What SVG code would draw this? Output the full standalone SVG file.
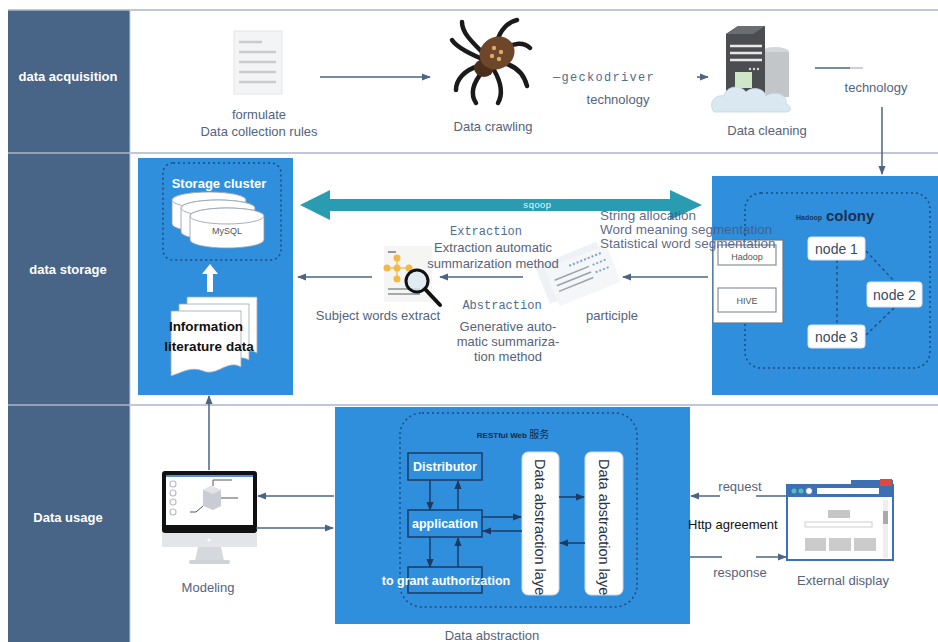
<svg xmlns="http://www.w3.org/2000/svg" width="938" height="642" viewBox="0 0 938 642">
  <style>
    .lbl { font-family: "Liberation Sans", Arial, sans-serif; font-size: 13px; fill: #55637c; }
    .lane { font-family: "Liberation Sans", Arial, sans-serif; font-size: 13px; fill: #ffffff; font-weight: bold; }
    .mono { font-family: "Liberation Mono", "Courier New", monospace; font-size: 12px; fill: #4f6d8f; }
    .sep { stroke: #a9b6c8; stroke-width: 1.5; }
    .flow { stroke: #4d6482; stroke-width: 1.5; fill: none; }
    .inner { stroke: #1d3a63; stroke-width: 1.5; fill: none; }
    .panel { fill: #2f8fdc; }
    .dash { fill: none; stroke: #1d4a80; stroke-width: 1.5; stroke-dasharray: 2 3; }
    .node { fill: #ffffff; stroke: #d7e3ef; stroke-width: 1; }
    .nodetxt { font-family: "Liberation Sans", Arial, sans-serif; font-size: 14px; fill: #3a4a66; }
    .btn { fill: #2f8fdc; stroke: #1d3a63; stroke-width: 1.5; }
    .btntxt { font-family: "Liberation Sans", Arial, sans-serif; font-size: 12.5px; font-weight: bold; fill: #ffffff; }
    .layer { fill: #ffffff; stroke: #cdd8e4; stroke-width: 1; }
    .layertxt { font-family: "Liberation Sans", Arial, sans-serif; font-size: 14.5px; fill: #2a3448; }
  </style>
  <defs>
    <marker id="ah" viewBox="0 0 10 10" refX="9" refY="5" markerWidth="6" markerHeight="6" orient="auto-start-reverse">
      <path d="M0,1 L10,5 L0,9 z" fill="#4d6482"/>
    </marker>
    <marker id="ahd" viewBox="0 0 10 10" refX="9" refY="5" markerWidth="6" markerHeight="6" orient="auto-start-reverse">
      <path d="M0,1 L10,5 L0,9 z" fill="#1d3a63"/>
    </marker>
    <path id="page" d="M0,0 H70 V56 C56,48 46,66 32,60 C20,55 10,62 0,65 Z"/>
    <g id="cyl">
      <path d="M0,8 A37,8 0 0 1 74,8 V32 A37,8 0 0 1 0,32 Z" fill="#ffffff" stroke="#8e9bad" stroke-width="0.8"/>
      <ellipse cx="37" cy="8" rx="37" ry="8" fill="#ffffff" stroke="#8e9bad" stroke-width="0.8"/>
    </g>
    <clipPath id="clipL1"><rect x="522" y="452" width="37" height="143" rx="6"/></clipPath>
    <clipPath id="clipL2"><rect x="585" y="452" width="38" height="143" rx="6"/></clipPath>
  </defs>

  <!-- background -->
  <rect x="0" y="0" width="938" height="642" fill="#ffffff"/>

  <!-- lane headers -->
  <g id="lanes">
    <rect x="8" y="10" width="122" height="632" fill="#486486"/>
    <line x1="8" y1="10" x2="938" y2="10" class="sep"/>
    <line x1="8" y1="153" x2="938" y2="153" class="sep"/>
    <line x1="8" y1="405" x2="938" y2="405" class="sep"/>
    <line x1="130" y1="10" x2="130" y2="642" stroke="#c5cfdb" stroke-width="1"/>
    <text x="68" y="81" class="lane" text-anchor="middle">data acquisition</text>
    <text x="68" y="274" class="lane" text-anchor="middle">data storage</text>
    <text x="68" y="522" class="lane" text-anchor="middle">Data usage</text>
  </g>

  <!-- ===== data acquisition ===== -->
  <g id="rules">
    <rect x="234" y="31" width="48" height="63" fill="#f3f4f5" stroke="#e3e6ea" stroke-width="1"/>
    <g stroke="#c9cbce" stroke-width="2.5">
      <line x1="239" y1="42" x2="262" y2="42"/>
      <line x1="239" y1="52" x2="276" y2="52"/>
      <line x1="239" y1="62" x2="276" y2="62"/>
      <line x1="239" y1="72" x2="276" y2="72"/>
      <line x1="239" y1="82" x2="276" y2="82"/>
    </g>
    <text x="259" y="119" class="lbl" text-anchor="middle">formulate</text>
    <text x="259" y="136" class="lbl" text-anchor="middle">Data collection rules</text>
  </g>

  <g id="crawling">
    <g stroke="#1a1a1a" stroke-width="4.5" fill="none" stroke-linecap="round">
      <path d="M482,52 C470,40 462,32 462,22"/>
      <path d="M480,58 C466,52 456,46 452,40"/>
      <path d="M479,66 C464,70 456,80 456,90"/>
      <path d="M483,71 C472,84 470,94 476,103"/>
      <path d="M497,42 C500,30 508,22 517,20"/>
      <path d="M504,50 C514,42 524,42 530,48"/>
      <path d="M503,63 C516,66 524,74 527,86"/>
      <path d="M494,70 C502,84 503,94 498,103"/>
    </g>
    <ellipse cx="484" cy="68" rx="10" ry="9" fill="#4a2f1c"/>
    <ellipse cx="497" cy="53" rx="18" ry="16" transform="rotate(-30 497 53)" fill="#6e4629"/>
    <g fill="#d9aa6c">
      <circle cx="494" cy="48" r="2.2"/>
      <circle cx="501" cy="52" r="2.2"/>
      <circle cx="492" cy="56" r="2.2"/>
      <circle cx="499" cy="59" r="2.2"/>
    </g>
    <text x="493" y="131" class="lbl" text-anchor="middle">Data crawling</text>
  </g>

  <g id="cleaning">
    <ellipse cx="775" cy="52" rx="14" ry="5" fill="#d4d6d8"/>
    <rect x="761" y="52" width="28" height="45" fill="#c3c6c9"/>
    <path d="M726,34 L738,26 H765 V98 H726 Z" fill="#4b4d50"/>
    <path d="M726,34 L738,26 H765 L753,34 Z" fill="#6a6d71"/>
    <g stroke="#e8e8e8" stroke-width="2.5">
      <line x1="730" y1="46" x2="762" y2="46"/>
      <line x1="730" y1="53" x2="762" y2="53"/>
      <line x1="730" y1="60" x2="762" y2="60"/>
    </g>
    <g fill="#d8d8d8">
      <circle cx="750" cy="69" r="1.2"/><circle cx="754" cy="69" r="1.2"/><circle cx="758" cy="69" r="1.2"/>
    </g>
    <rect x="735" y="72" width="17" height="16" fill="#cfe6c8"/>
    <path d="M714,112 C708,104 714,94 724,96 C726,86 740,84 746,92 C752,86 764,88 766,96 C774,90 788,94 786,104 C792,106 792,112 786,112 Z" fill="#d9e8f1" stroke="#c3d6e3" stroke-width="0.8"/>
    <text x="767" y="135" class="lbl" text-anchor="middle">Data cleaning</text>
  </g>

  <!-- ===== data storage ===== -->
  <g id="storage">
    <rect x="138" y="158" width="155" height="237" class="panel"/>
    <rect x="163" y="163" width="118" height="97" rx="10" class="dash"/>
    <text x="219" y="188" font-family="Liberation Sans, Arial, sans-serif" font-size="13" font-weight="bold" fill="#ffffff" text-anchor="middle">Storage cluster</text>
    <use href="#cyl" x="172" y="192"/>
    <use href="#cyl" x="181" y="200"/>
    <use href="#cyl" x="190" y="208"/>
    <text x="227" y="234" font-family="Liberation Sans, Arial, sans-serif" font-size="9" fill="#555" text-anchor="middle">MySQL</text>
    <polygon points="207,292 207,274 202,274 210,264 218,274 213,274 213,292" fill="#ffffff"/>
    <use href="#page" x="187" y="297" fill="#ffffff" stroke="#9aa8b8" stroke-width="0.8"/>
    <use href="#page" x="179" y="304" fill="#ffffff" stroke="#9aa8b8" stroke-width="0.8"/>
    <use href="#page" x="171" y="311" fill="#ffffff" stroke="#9aa8b8" stroke-width="0.8"/>
    <text x="206" y="331" font-family="Liberation Sans, Arial, sans-serif" font-size="13.5" font-weight="bold" fill="#111" text-anchor="middle">Information</text>
    <text x="209" y="351" font-family="Liberation Sans, Arial, sans-serif" font-size="13.5" font-weight="bold" fill="#111" text-anchor="middle">literature data</text>
  </g>

  <g id="subject">
    <rect x="384" y="246" width="48" height="56" fill="#f5f5f4"/>
    <line x1="388" y1="252" x2="396" y2="252" stroke="#777" stroke-width="1.5"/>
    <g stroke="#f2c160" stroke-width="1.5">
      <line x1="397" y1="258" x2="397" y2="278"/>
      <line x1="387" y1="268" x2="410" y2="268"/>
    </g>
    <g fill="#f4b844">
      <circle cx="397" cy="258" r="3.5"/><circle cx="387" cy="268" r="3.5"/><circle cx="397" cy="268" r="3.5"/><circle cx="409" cy="268" r="3.5"/><circle cx="397" cy="279" r="3.5"/>
    </g>
    <g stroke="#8a8f96" stroke-width="1.5">
      <line x1="388" y1="289" x2="420" y2="289"/>
      <line x1="388" y1="294" x2="420" y2="294"/>
    </g>
    <circle cx="417" cy="281" r="11" fill="#dbe9f3" fill-opacity="0.8" stroke="#111" stroke-width="3"/>
    <line x1="425" y1="289" x2="440" y2="305" stroke="#111" stroke-width="4" stroke-linecap="round"/>
    <text x="378" y="320" class="lbl" text-anchor="middle">Subject words extract</text>
  </g>

  <g id="participle">
    <g transform="rotate(-22 575 272)">
      <rect x="540" y="252" width="66" height="40" fill="#eef1f5"/>
      <rect x="548" y="258" width="66" height="40" fill="#f4f6f8"/>
      <g stroke="#9aa3ad" stroke-width="1.6">
        <line x1="553" y1="272" x2="590" y2="272"/>
        <line x1="553" y1="278" x2="590" y2="278"/>
        <line x1="553" y1="284" x2="590" y2="284"/>
      </g>
      <g stroke="#7fa6d6" stroke-width="2" stroke-dasharray="2 2">
        <line x1="572" y1="264" x2="608" y2="264"/>
        <line x1="594" y1="272" x2="608" y2="272"/>
        <line x1="594" y1="280" x2="608" y2="280"/>
      </g>
    </g>
    <text x="612" y="320" class="lbl" text-anchor="middle">participle</text>
  </g>

  <g id="hadoop">
    <rect x="712" y="176" width="226" height="219" class="panel"/>
    <rect x="745" y="193" width="185" height="175" rx="16" class="dash"/>
    <text x="822" y="220" font-family="Liberation Sans, Arial, sans-serif" font-size="7" font-weight="bold" fill="#1e3556" text-anchor="end">Hadoop</text>
    <text x="826" y="221" font-family="Liberation Sans, Arial, sans-serif" font-size="15" font-weight="bold" fill="#1b3150">colony</text>
    <rect x="713" y="240" width="70" height="83" fill="#ffffff" stroke="#6f7780" stroke-width="1.2"/>
    <rect x="718" y="245" width="58" height="20" fill="#ffffff" stroke="#8a9098" stroke-width="1.2"/>
    <rect x="718" y="288" width="58" height="24" fill="#ffffff" stroke="#8a9098" stroke-width="1.2"/>
    <text x="747" y="260" font-family="Liberation Sans, Arial, sans-serif" font-size="9" fill="#555" text-anchor="middle">Hadoop</text>
    <text x="747" y="304" font-family="Liberation Sans, Arial, sans-serif" font-size="9" fill="#555" text-anchor="middle">HIVE</text>
    <g stroke="#1d4a80" stroke-width="1.3" stroke-dasharray="3 3" fill="none">
      <line x1="837" y1="260" x2="837" y2="325"/>
      <line x1="866" y1="251" x2="895" y2="282"/>
      <line x1="866" y1="335" x2="895" y2="307"/>
    </g>
    <g id="node1">
      <rect x="808" y="237" width="57" height="23" rx="3" class="node"/>
      <text x="836.5" y="254" class="nodetxt" text-anchor="middle">node 1</text>
    </g>
    <g id="node2">
      <rect x="867" y="282" width="55" height="25" rx="3" class="node"/>
      <text x="894.5" y="300" class="nodetxt" text-anchor="middle">node 2</text>
    </g>
    <g id="node3">
      <rect x="808" y="325" width="57" height="23" rx="3" class="node"/>
      <text x="836.5" y="342" class="nodetxt" text-anchor="middle">node 3</text>
    </g>
  </g>

  <g id="sqoop">
    <polygon points="300,205 330,190 330,199 670,199 670,190 702,205 670,220 670,211 330,211 330,220" fill="#2a9cb2"/>
    <text x="537" y="208" font-family="Liberation Mono, Courier New, monospace" font-size="9.5" fill="#e8f6fa" text-anchor="middle">sqoop</text>
  </g>

  <g id="storage-labels">
    <text x="486" y="235" class="mono" text-anchor="middle">Extraction</text>
    <text x="493" y="252" class="lbl" text-anchor="middle">Extraction automatic</text>
    <text x="493" y="268" class="lbl" text-anchor="middle">summarization method</text>
    <text x="502" y="309" class="mono" text-anchor="middle">Abstraction</text>
    <text x="508" y="331" class="lbl" text-anchor="middle">Generative auto-</text>
    <text x="508" y="346" class="lbl" text-anchor="middle">matic summariza-</text>
    <text x="508" y="361" class="lbl" text-anchor="middle">tion method</text>
    <g font-family="Liberation Sans, Arial, sans-serif" font-size="13.5" fill="#4a5880" fill-opacity="0.9">
      <text x="600" y="220">String allocation</text>
      <text x="600" y="234">Word meaning segmentation</text>
      <text x="600" y="248">Statistical word segmentation</text>
    </g>
  </g>

  <!-- ===== data usage ===== -->
  <g id="modeling">
    <rect x="162" y="471" width="95" height="62" rx="3" fill="#111"/>
    <rect x="166" y="475" width="87" height="50" fill="#ffffff"/>
    <rect x="166" y="475" width="87" height="2" fill="#5a8fd0"/>
    <g fill="#ffffff" stroke="#b8bec6" stroke-width="1.2">
      <circle cx="173" cy="484" r="3"/><circle cx="173" cy="493" r="3"/><circle cx="173" cy="502" r="3"/><circle cx="173" cy="512" r="3"/>
    </g>
    <path d="M203,490 L211,486 L221,490 V506 L213,510 L203,506 Z" fill="#c9ccd3"/>
    <path d="M203,490 L211,486 L221,490 L213,494 Z" fill="#e1e3e8"/>
    <g stroke="#556" stroke-width="1" fill="none">
      <path d="M213,486 V480 H232"/>
      <path d="M221,498 H238"/>
      <path d="M203,506 L196,512 H190"/>
    </g>
    <rect x="162" y="533" width="95" height="14" fill="#e3e5e8"/>
    <circle cx="209" cy="540" r="1.5" fill="#ffffff"/>
    <path d="M198,547 H221 L224,561 H195 Z" fill="#d5d8dc"/>
    <rect x="189" y="560" width="41" height="4" rx="2" fill="#cfd2d6"/>
    <text x="208" y="592" class="lbl" text-anchor="middle">Modeling</text>
  </g>

  <g id="restful">
    <rect x="335" y="407" width="355" height="217" class="panel"/>
    <rect x="400" y="413" width="237" height="194" rx="22" class="dash"/>
    <text x="513" y="438" text-anchor="middle" fill="#1a2740"><tspan font-family="Liberation Sans, Arial, sans-serif" font-size="8" font-weight="bold">RESTful Web </tspan><tspan font-family="Noto Sans CJK SC, sans-serif" font-size="10">服务</tspan></text>
    <g id="distributor">
      <rect x="408" y="453" width="74" height="27" class="btn"/>
      <text x="445" y="471" class="btntxt" text-anchor="middle">Distributor</text>
    </g>
    <g id="application">
      <rect x="408" y="510" width="74" height="27" class="btn"/>
      <text x="445" y="528" class="btntxt" text-anchor="middle">application</text>
    </g>
    <g id="grant">
      <rect x="408" y="567" width="74" height="26" class="btn"/>
      <text x="446" y="585" class="btntxt" text-anchor="middle">to grant authorization</text>
    </g>
    <g id="layer1">
      <rect x="522" y="452" width="37" height="143" rx="6" class="layer"/>
      <g clip-path="url(#clipL1)">
        <text x="459" y="-535" class="layertxt" transform="rotate(90)">Data abstraction layer</text>
      </g>
    </g>
    <g id="layer2">
      <rect x="585" y="452" width="38" height="143" rx="6" class="layer"/>
      <g clip-path="url(#clipL2)">
        <text x="459" y="-599" class="layertxt" transform="rotate(90)">Data abstraction layer</text>
      </g>
    </g>
  </g>

  <g id="display">
    <rect x="787" y="485" width="106" height="75" fill="#ffffff" stroke="#3d6fb5" stroke-width="2"/>
    <rect x="787" y="485" width="106" height="12" fill="#3d6fb5"/>
    <rect x="851" y="480" width="42" height="6" fill="#3d6fb5"/>
    <rect x="880" y="479" width="12" height="7" fill="#e2473f"/>
    <circle cx="794" cy="491" r="2.5" fill="#4fc2b8"/>
    <circle cx="801" cy="491" r="2.5" fill="#4fc2b8"/>
    <circle cx="809" cy="491" r="3.5" fill="#ffffff" stroke="#3d6fb5"/>
    <rect x="817" y="488" width="62" height="6" fill="#ffffff"/>
    <rect x="883" y="500" width="5" height="58" fill="#eeeeee"/>
    <rect x="883" y="511" width="5" height="13" fill="#aaaaaa"/>
    <rect x="828" y="510" width="22" height="8" fill="#c6c6c6"/>
    <rect x="805" y="522" width="67" height="5" fill="#ffffff" stroke="#cfcfcf" stroke-width="1"/>
    <rect x="805" y="538" width="21" height="13" fill="#cbcbcb"/>
    <rect x="829" y="538" width="22" height="13" fill="#cbcbcb"/>
    <rect x="854" y="538" width="22" height="13" fill="#cbcbcb"/>
    <text x="843" y="585" class="lbl" text-anchor="middle">External display</text>
  </g>

  <!-- connectors -->
  <g id="connectors">
    <line x1="320" y1="77" x2="430" y2="77" class="flow" marker-end="url(#ah)"/>
    <line x1="697" y1="77" x2="708" y2="77" class="flow" marker-end="url(#ah)"/>
    <line x1="815" y1="68" x2="850" y2="68" class="flow"/>
    <line x1="850" y1="68" x2="863" y2="68" stroke="#b8c2cf" stroke-width="1.5"/>
    <line x1="882" y1="107" x2="882" y2="174" class="flow" marker-end="url(#ah)"/>
    <line x1="708" y1="277" x2="623" y2="277" class="flow" marker-end="url(#ah)"/>
    <line x1="523" y1="277" x2="440" y2="277" class="flow" marker-end="url(#ah)"/>
    <line x1="372" y1="277" x2="298" y2="277" class="flow" marker-end="url(#ah)"/>
    <line x1="209" y1="470" x2="209" y2="396" class="flow" marker-end="url(#ah)"/>
    <line x1="334" y1="496" x2="258" y2="496" class="flow" marker-end="url(#ah)"/>
    <line x1="256" y1="528" x2="333" y2="528" class="flow" marker-end="url(#ah)"/>
    <line x1="430" y1="480" x2="430" y2="510" class="inner" marker-end="url(#ahd)"/>
    <line x1="458" y1="510" x2="458" y2="481" class="inner" marker-end="url(#ahd)"/>
    <line x1="430" y1="537" x2="430" y2="567" class="inner" marker-end="url(#ahd)"/>
    <line x1="458" y1="567" x2="458" y2="538" class="inner" marker-end="url(#ahd)"/>
    <line x1="482" y1="517" x2="521" y2="517" class="inner" marker-end="url(#ahd)"/>
    <line x1="522" y1="531" x2="483" y2="531" class="inner" marker-end="url(#ahd)"/>
    <line x1="559" y1="497" x2="584" y2="497" class="inner" marker-end="url(#ahd)"/>
    <line x1="585" y1="543" x2="560" y2="543" class="inner" marker-end="url(#ahd)"/>
    <line x1="720" y1="496" x2="691" y2="496" class="flow" marker-end="url(#ah)"/>
    <line x1="756" y1="496" x2="787" y2="496" class="flow"/>
    <line x1="690" y1="557" x2="722" y2="557" class="flow"/>
    <line x1="756" y1="557" x2="786" y2="557" class="flow" marker-end="url(#ah)"/>
  </g>

  <!-- free labels -->
  <g id="labels">
    <text x="553" y="81" class="mono" font-size="13" letter-spacing="1.3">—geckodriver</text>
    <text x="618" y="104" class="lbl" text-anchor="middle">technology</text>
    <text x="876" y="92" class="lbl" text-anchor="middle">technology</text>
    <text x="740" y="491" class="lbl" text-anchor="middle">request</text>
    <text x="688" y="529" font-family="Liberation Sans, Arial, sans-serif" font-size="13" fill="#111">Http agreement</text>
    <text x="740" y="577" class="lbl" text-anchor="middle">response</text>
    <text x="492" y="640" class="lbl" text-anchor="middle">Data abstraction</text>
  </g>
</svg>
